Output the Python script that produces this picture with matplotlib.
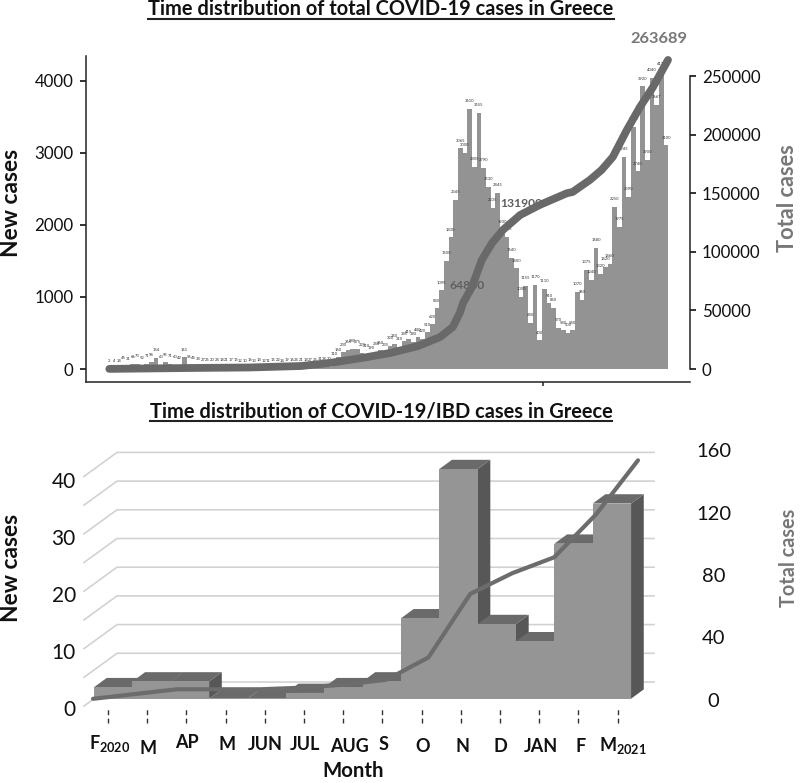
import matplotlib
matplotlib.use("Agg")
import matplotlib.pyplot as plt
from matplotlib.lines import Line2D
from matplotlib.patches import Polygon

plt.rcParams['font.family'] = ['Lato', 'DejaVu Sans']
plt.rcParams['mathtext.fontset'] = 'custom'
plt.rcParams['mathtext.bf'] = 'Lato:bold'
plt.rcParams['mathtext.rm'] = 'Lato'

W, H = 800, 783

# ---- top chart: new cases (bars) and total cases (line)
new_cases = [2, 4, 14, 45, 31, 66, 73, 52, 71, 94,
             154, 60, 95, 71, 60, 42, 161, 56, 45, 38,
             27, 25, 20, 24, 18, 21, 17, 15, 12, 10,
             16, 13, 18, 12, 11, 15, 22, 14, 19, 16,
             24, 21, 18, 27, 25, 31, 38, 30,
             110, 160, 230, 265, 280, 275, 225, 210, 190, 240, 260, 235,
             320, 350, 310, 385, 415, 380, 440, 420, 510, 620,
             840, 1095, 1500, 1830, 2345, 3065, 3000, 3610, 2805, 3555,
             2790, 2530, 2235, 2445, 1930, 1835, 1540, 1400, 1000, 1155,
             640, 1170, 400, 1110, 910, 850, 570, 540, 500, 540,
             1070, 960, 1375, 1240, 1680, 1320, 1420, 1460, 2250, 1975,
             2945, 2390, 3360, 2740, 3920, 2900, 4040, 3667, 4130, 3100]
total_day = [0, 17, 30, 41, 47, 54, 60, 66, 70.7, 73.4, 74.9, 75.6, 77.5, 79.6, 81.8, 84.1,
             87.8, 92, 97.8, 99, 102.7, 105.2, 107.6, 110.6, 113.4, 116.2, 119.4]
total_cases = [100, 850, 1300, 2560, 5100, 9400, 13650, 19600, 27300, 35800,
               47800, 56300, 70000, 93000, 107500, 118600, 131400, 140000, 150000,
               151000, 161300, 169800, 180900, 203900, 223500, 240600, 263689]
callouts = [('64800', 76.5, 71000), ('131900', 88, 141500)]

# ---- bottom chart: COVID-19/IBD by month
months = ['F$_{\\mathbf{2020}}$', 'M', 'AP', 'M', 'JUN', 'JUL', 'AUG', 'S', 'O', 'N', 'D',
          'JAN', 'F', 'M$_{\\mathbf{2021}}$']
ibd_new = [2, 3, 3, 0, 0, 1, 2, 3, 14, 40, 13, 10, 27, 34]
ibd_total = [2, 5, 8, 8, 8, 9, 11, 14, 28, 68, 81, 91, 118, 152]
grid_values = [0, 5, 10, 15, 20, 25, 30, 35, 40]

fig = plt.figure(figsize=(W / 100, H / 100), dpi=100)


def pix_axes(x0, x1, y_bottom, y_top):
    ax = fig.add_axes([x0 / W, 1 - y_bottom / H, (x1 - x0) / W, (y_bottom - y_top) / H])
    ax.patch.set_alpha(0)
    return ax


def pix_text(x, y, s, **kw):
    return fig.text(x / W, 1 - y / H, s, ha='center', va='center', **kw)


def title(x, y, s, line_y):
    t = pix_text(x, y, s, fontsize=14.4, fontweight='bold', color='#111111')
    box = t.get_window_extent(fig.canvas.get_renderer())
    fig.add_artist(Line2D([box.x0 / W, box.x1 / W], [1 - line_y / H] * 2, color='#222222', lw=1.5))


BAR_GREY = '#939393'
LINE_GREY = '#696969'
LABEL_GREY = '#777777'
INK = '#222222'

# top chart
ax1 = pix_axes(86, 690, 382, 56)
ax1.bar(range(len(new_cases)), new_cases, width=1.0, color=BAR_GREY, linewidth=0, zorder=2)
for i, v in enumerate(new_cases):
    ax1.text(i, v + 104, str(v), fontsize=3, color='#333333', ha='center', va='center', zorder=3)
ax1.set_xlim(-4.98, 124.1)
ax1.set_ylim(-180, 4341)
ax1.set_yticks([0, 1000, 2000, 3000, 4000])
ax1.set_xticks([92.7])
ax1.set_xticklabels([''])
ax1.tick_params(axis='y', labelsize=12.2, length=4, width=1.3, color=INK, labelcolor='#111111', pad=5)
ax1.tick_params(axis='x', length=3, width=1.1, color=INK)
ax1.spines['top'].set_visible(False)
ax1.spines['right'].set_visible(False)
ax1.spines['left'].set_linewidth(1.1)
ax1.spines['bottom'].set_linewidth(1.1)
ax1.spines['left'].set_color(INK)
ax1.spines['bottom'].set_color(INK)

ax1r = ax1.twinx()
ax1r.patch.set_alpha(0)
ax1r.plot(total_day, total_cases, color=LINE_GREY, lw=5.6, solid_capstyle='round',
          solid_joinstyle='round', zorder=5)
ax1r.set_ylim(-11092, 267065)
ax1r.set_yticks([0, 50000, 100000, 150000, 200000, 250000])
ax1r.tick_params(axis='y', labelsize=12.2, length=4, width=1.3, color=INK, labelcolor='#111111', pad=4.5)
for s in ['top', 'left', 'bottom']:
    ax1r.spines[s].set_visible(False)
ax1r.spines['right'].set_bounds(0, 250000)
ax1r.spines['right'].set_linewidth(1.1)
ax1r.spines['right'].set_color(INK)
for label, xv, yv in callouts:
    ax1r.text(xv, yv, label, fontsize=8.7, fontweight='bold', color='#5f5f5f', ha='center',
              va='center', zorder=4)
ax1r.text(total_day[-1] - 2, 281600, str(total_cases[-1]), fontsize=11.8, fontweight='bold',
          color=LABEL_GREY, ha='center', va='center', clip_on=False)

title(381, 9, 'Time distribution of total COVID-19 cases in Greece', 19)
pix_text(12, 203, 'New cases', fontsize=16.4, fontweight='bold', color='#111111', rotation=90)
pix_text(788, 198, 'Total cases', fontsize=15.7, fontweight='bold', color=LABEL_GREY, rotation=90)

# bottom chart, pseudo 3D: one category is 38.36 px, one case is 5.74 px
CAT_PX, VAL_PX = 38.36, 5.74
BASE_X, BASE_Y = 113.2, 698.7
DEPTH_X, DEPTH_Y = 12.7 / CAT_PX, 9.3 / VAL_PX
FRONT_COL, TOP_COL, SIDE_COL = '#959595', '#6a6a6a', '#575757'

ax2 = pix_axes(60, 670, 730, 440)
ax2.set_xlim((60 - BASE_X) / CAT_PX, (670 - BASE_X) / CAT_PX)
ax2.set_ylim((BASE_Y - 730) / VAL_PX, (BASE_Y - 440) / VAL_PX)
ax2.axis('off')

wall_left, wall_right = (117 - BASE_X) / CAT_PX, (654 - BASE_X) / CAT_PX
front_left = (84 - BASE_X) / CAT_PX
wall_up, front_down = (BASE_Y - 682) / VAL_PX, (706 - BASE_Y) / VAL_PX
for g in grid_values:
    ax2.plot([front_left, wall_left, wall_right], [g - front_down, g + wall_up, g + wall_up],
             color='#d2d2d2', lw=1.2, zorder=1)

for i, v in enumerate(ibd_new):
    l, r = i - 0.5, i + 0.5
    ax2.add_patch(Polygon([(r, 0), (r + DEPTH_X, DEPTH_Y), (r + DEPTH_X, v + DEPTH_Y), (r, v)],
                          closed=True, facecolor=SIDE_COL, edgecolor='none', zorder=2))
    ax2.add_patch(Polygon([(l, v), (l + DEPTH_X, v + DEPTH_Y), (r + DEPTH_X, v + DEPTH_Y), (r, v)],
                          closed=True, facecolor=TOP_COL, edgecolor='none', zorder=2))
for i, v in enumerate(ibd_new):
    ax2.bar(i, v, width=1.0, color=FRONT_COL, linewidth=0, zorder=3)

# the line has its own, wider category spacing
ax2l = pix_axes(93, 638, 702, 447.6)
ax2l.plot(range(len(ibd_total)), ibd_total, color='#6c6c6c', lw=3, solid_capstyle='round', clip_on=False)
ax2l.set_xlim(0, 13)
ax2l.set_ylim(0, 160)
ax2l.axis('off')

# left and right scales sit lower than the bar plane
ax2y = pix_axes(80, 80.5, 708, 480)
ax2y.set_ylim(0, 40)
ax2y.set_yticks([0, 10, 20, 30, 40])
ax2y.set_xticks([])
ax2y.tick_params(axis='y', length=0, labelsize=15, labelcolor='#111111', pad=3)
for s in ax2y.spines.values():
    s.set_visible(False)

ax2r = pix_axes(713, 713.5, 700, 450)
ax2r.set_ylim(0, 160)
ax2r.set_yticks([0, 40, 80, 120, 160])
ax2r.set_xticks([])
ax2r.yaxis.tick_right()
ax2r.tick_params(axis='y', length=0, labelsize=14.5, labelcolor='#111111', pad=0)
for lab in ax2r.get_yticklabels():
    lab.set_ha('center')
for s in ax2r.spines.values():
    s.set_visible(False)

# dashed month ticks
ax2m = pix_axes(108, 617.6, 723, 707)
ax2m.set_xlim(0, 13)
ax2m.set_ylim(0, 1)
ax2m.axis('off')
ax2m.vlines(range(len(months)), 0, 1, color='#333333', lw=1.0, linestyles=(0, (3.5, 2.5)), clip_on=False)
label_shift = [2, 1, 1, 1, 0, 1, 6, 1, 1, 2, 0, 2, 2, 5]
label_drop = [1, 5, 0, 2, 2, 2, 3, 2, 3, 3, 3, 3, 3, 3]
for i, m in enumerate(months):
    ax2m.annotate(m, (i, 0), xycoords=('data', 'axes fraction'),
                  xytext=(label_shift[i], -20 - label_drop[i]), textcoords='offset pixels',
                  ha='center', va='center', fontsize=13, fontweight='bold', color='#111111',
                  annotation_clip=False)

title(381, 411, 'Time distribution of COVID-19/IBD cases in Greece', 421)
pix_text(353, 771, 'Month', fontsize=14.7, fontweight='bold', color='#111111')
pix_text(12, 568, 'New cases', fontsize=16.4, fontweight='bold', color='#111111', rotation=90)
pix_text(789, 558, 'Total cases', fontsize=14.3, fontweight='bold', color=LABEL_GREY, rotation=90)

fig.savefig('out.png', dpi=100)
